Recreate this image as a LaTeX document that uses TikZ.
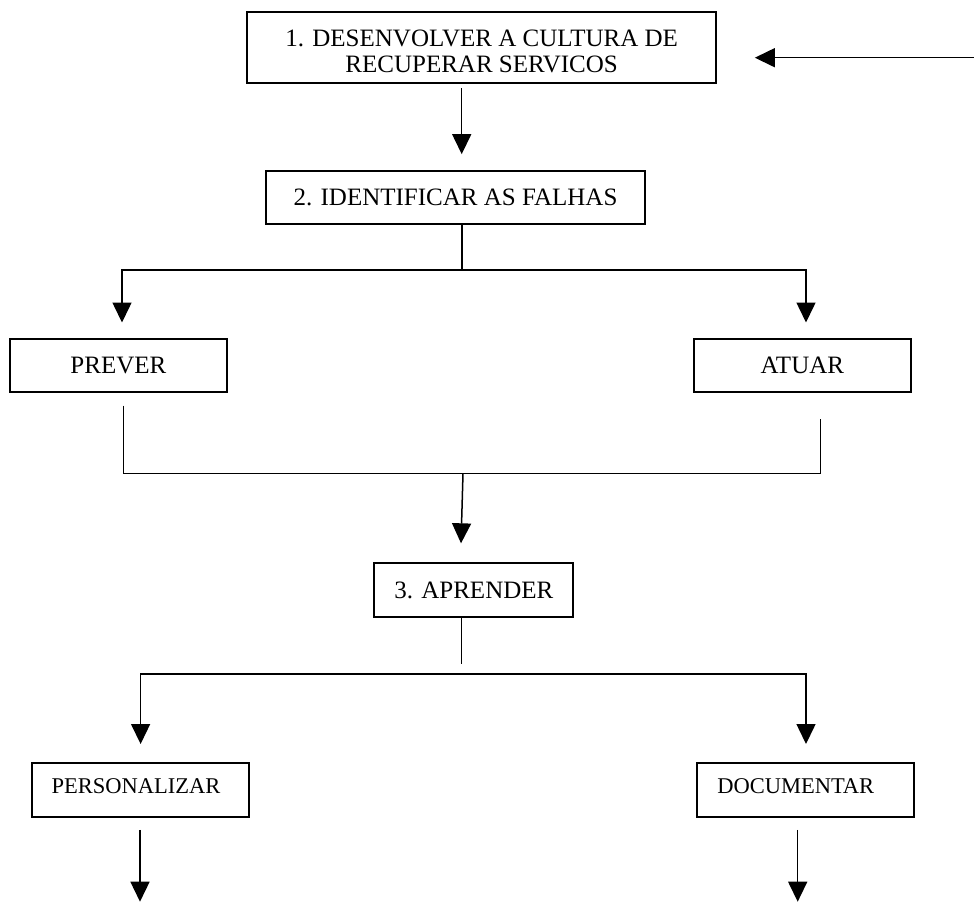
\documentclass[tikz,border=0pt]{standalone}
\usepackage{fontspec}
\setmainfont{Liberation Serif}
\usetikzlibrary{arrows.meta}
\begin{document}
\begin{tikzpicture}[x=1pt,y=-1pt,
  box/.style={draw, line width=1.7pt, rectangle, inner sep=0pt,
    font=\fontsize{25}{26.5}\selectfont, align=center},
  smallbox/.style={box, font=\fontsize{22.5}{24}\selectfont, align=left},
  link/.style={line width=1.5pt},
  arr/.style={link, -{Triangle[length=20pt,width=19pt]}}]
\useasboundingbox (0,0) rectangle (974,922);

% boxes
\node[box, minimum width=468.7pt, minimum height=71pt, text height=50.5pt]
  (cultura) at (481.65,47.8) {1. DESENVOLVER A CULTURA DE\\RECUPERAR SERVICOS};
\node[box, minimum width=379.3pt, minimum height=53.6pt]
  (falhas) at (455.5,197.5) {2. IDENTIFICAR AS FALHAS};
\node[box, minimum width=216.7pt, minimum height=53pt]
  (prever) at (118.35,365.5) {PREVER};
\node[box, minimum width=216.7pt, minimum height=53pt]
  (atuar) at (802.35,365.5) {ATUAR};
\node[box, minimum width=199pt, minimum height=54.3pt]
  (aprender) at (473.8,590.15) {3. APRENDER};
\node[smallbox, text width=178.2pt, inner xsep=19.4pt, minimum height=54pt, text depth=8pt]
  (personalizar) at (140.8,790) {PERSONALIZAR};
\node[smallbox, text width=176.7pt, inner xsep=20pt, minimum height=54pt, text depth=8pt]
  (documentar) at (805.65,790) {DOCUMENTAR};

% incoming arrow from the right
\coordinate (inR) at (974,57.7);
\draw[arr, shorten >=38pt] (inR) -- (inR -| cultura.east);

% 1 -> 2
\coordinate (d1) at (461.7,88);
\draw[arr, shorten >=15.7pt] (d1) -- (d1 |- falhas.north);

% 2 -> prever / atuar
\coordinate (j2) at (462,270);
\coordinate (tipP) at (122,322.5);
\coordinate (tipA) at (806,322.5);
\draw[link] (falhas.south -| j2) -- (j2);
\draw[arr] (j2) -| (tipP);
\draw[arr] (j2) -| (tipA);

% prever / atuar -> 3
\coordinate (pb) at (123.3,405.7);
\coordinate (ab) at (820.7,419);
\coordinate (m) at (463,473.3);
\coordinate (tip3) at (461,543.3);
\draw[link] (pb) -- (pb |- m) -- (ab |- m) -- (ab);
\draw[arr] (m) -- (tip3);

% 3 -> personalizar / documentar
\coordinate (s3) at (461.7,664.3);
\coordinate (h3) at (461.7,674);
\coordinate (tipPe) at (140.6,744);
\coordinate (tipDo) at (806,744);
\draw[link] (aprender.south -| s3) -- (s3);
\draw[arr] (h3) -| (tipPe);
\draw[arr] (h3) -| (tipDo);

% outgoing arrows
\coordinate (oPe) at (140,901.7);
\coordinate (oDo) at (797.7,901.7);
\draw[arr, shorten <=12pt] (personalizar.south -| oPe) -- (oPe);
\draw[arr, shorten <=12pt] (documentar.south -| oDo) -- (oDo);
\end{tikzpicture}
\end{document}
